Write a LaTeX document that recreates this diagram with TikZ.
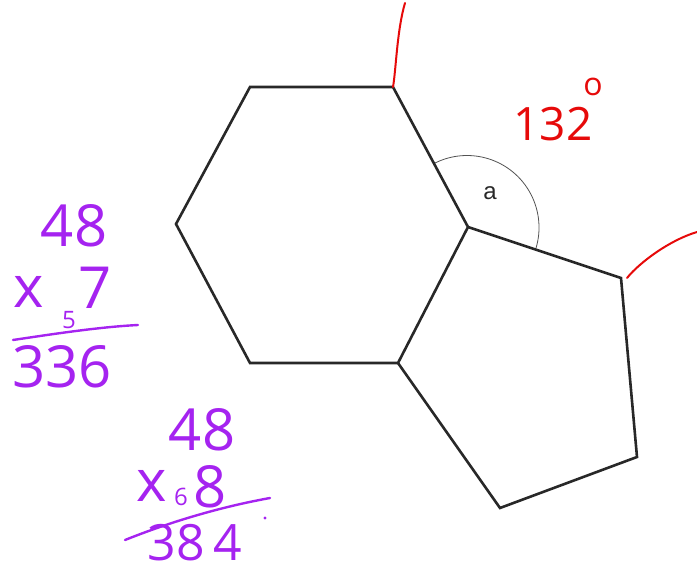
\documentclass[tikz,border=0pt]{standalone}
\usepackage{fontspec}
\usetikzlibrary{calc}
\setmainfont{Open Sans}
\newfontfamily\labelfont{Liberation Sans}
\definecolor{hwpurple}{RGB}{165,35,240}
\definecolor{hwred}{RGB}{230,10,10}
\definecolor{edge}{RGB}{40,40,40}
\tikzset{
  shapeedge/.style={draw=edge, line width=2.6pt, line join=miter},
  anglearc/.style={draw=edge!80, line width=0.8pt},
  purplehw/.style={text=hwpurple, inner sep=0pt, font=\fontsize{58}{58}\selectfont},
  purplex/.style={text=hwpurple, inner sep=0pt, font=\fontsize{58}{58}\selectfont},
  purplesmall/.style={text=hwpurple, inner sep=0pt, font=\fontsize{24}{24}\selectfont},
  purpleline/.style={draw=hwpurple, line width=2.4pt, line cap=round},
  redhw/.style={text=hwred, inner sep=0pt, font=\fontsize{46}{46}\selectfont},
  redline/.style={draw=hwred, line width=2pt, line cap=round},
}
\begin{document}
\begin{tikzpicture}[x={(1pt,0)}, y={(0,-1pt)}]
\useasboundingbox (0,0) rectangle (697,572);
% vertices
\coordinate (h1) at (250,87);
\coordinate (h2) at (393,87);
\coordinate (c) at (468,227);
\coordinate (h4) at (398,363);
\coordinate (h5) at (250,363);
\coordinate (h6) at (176,224);
\coordinate (p2) at (621,278);
\coordinate (p3) at (637,457);
\coordinate (p4) at (500,508);
% angle arc
\draw[anglearc] ($(c)!72pt!(h2)$) arc[start angle=117.3, end angle=-16.9, radius=72pt];
\node[font=\labelfont\fontsize{24}{24}\selectfont, text=edge, inner sep=0pt] (a) at (490,193) {a};
% shapes
\draw[shapeedge] (h1) -- (h2) -- (c) -- (h4) -- (h5) -- (h6) -- cycle;
\draw[shapeedge] (c) -- (p2) -- (p3) -- (p4) -- (h4);
% red marks
\coordinate (r1a) at (405,3);
\coordinate (r2a) at (697,232);
\draw[redline] (r1a) .. controls (397,30) and (396,70) .. (h2);
\draw[redline] ($(p2)+(6,0)$) .. controls (640,262) and (670,240) .. (r2a);
\node[redhw] (n132) at (553,124) {132};
\node[text=hwred, inner sep=0pt, font=\fontsize{32}{32}\selectfont] (deg) at (593,87) {o};
% purple working
\node[purplehw] (t48a) at (74,226) {48};
\node[purplex] (x1) at (29,292) {x};
\node[purplesmall] (s5) at (69,320) {5};
\node[purplehw] (s7) at (95,288) {7};
\coordinate (l1a) at (13,340);
\coordinate (l1b) at (138,325);
\draw[purpleline] (l1a) .. controls (60,333) and (100,327) .. (l1b);
\node[purplehw] (t336) at (62,367) {336};
\node[purplehw] (t48b) at (202,430) {48};
\node[purplex] (x2) at (152,486) {x};
\node[purplesmall] (s6) at (181,497) {6};
\node[purplehw] (s8) at (210,487) {8};
\coordinate (l2a) at (125,540);
\coordinate (l2b) at (270,498);
\draw[purpleline] (l2a) .. controls (170,522) and (220,507) .. (l2b);
\node[text=hwpurple, inner sep=0pt, font=\fontsize{50}{50}\selectfont] (t384) at (195,543) {38\,4};
\fill[hwpurple] (265,518) circle (1.6pt);
\end{tikzpicture}
\end{document}
